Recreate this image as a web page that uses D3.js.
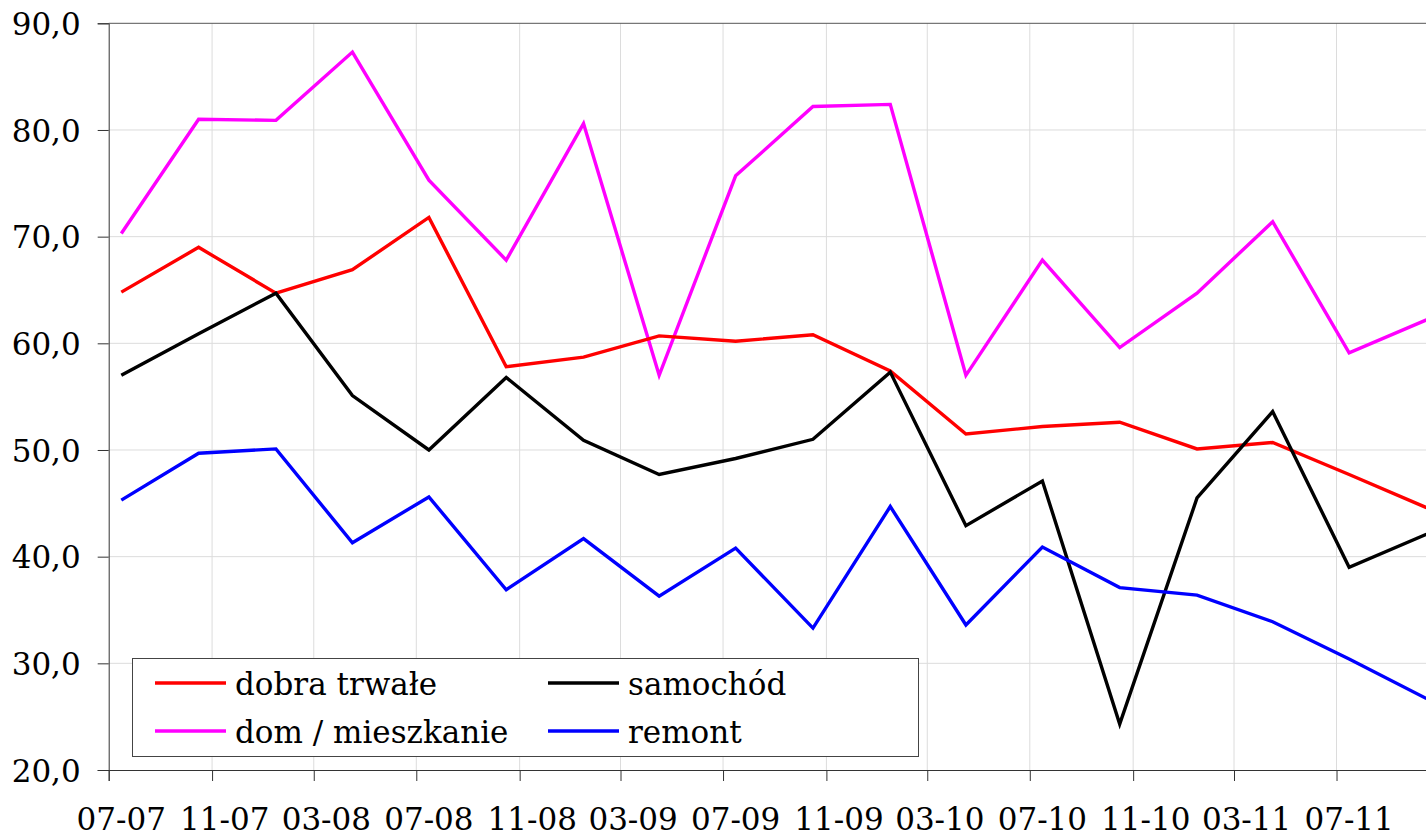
<!DOCTYPE html>
<html>
<head>
<meta charset="utf-8">
<script src="https://cdn.jsdelivr.net/npm/d3@7"></script>
<style>
    body { margin: 0; background: #fff; }
    svg { display: block; }
    text { font-family: "DejaVu Serif", serif; fill: #000; }
</style>
</head>
<body>
<svg id="viz_line"></svg>
<script>
// quarterly readings, Jul 2007 - Oct 2011
var months = ["2007-07", "2007-10", "2008-01", "2008-04", "2008-07", "2008-10",
    "2009-01", "2009-04", "2009-07", "2009-10", "2010-01", "2010-04",
    "2010-07", "2010-10", "2011-01", "2011-04", "2011-07", "2011-10"];

var dobra_trwale = [64.8, 69.0, 64.7, 66.9, 71.8, 57.8, 58.7, 60.7, 60.2, 60.8, 57.4, 51.5, 52.2, 52.6, 50.1, 50.7, 47.7, 44.6];
var samochod = [57.0, 60.9, 64.7, 55.1, 50.0, 56.8, 50.9, 47.7, 49.2, 51.0, 57.3, 42.9, 47.1, 24.3, 45.5, 53.6, 39.0, 42.1];
var dom_mieszkanie = [70.3, 81.0, 80.9, 87.3, 75.3, 67.8, 80.6, 57.0, 75.7, 82.2, 82.4, 57.0, 67.8, 59.6, 64.7, 71.4, 59.1, 62.2];
var remont = [45.3, 49.7, 50.1, 41.3, 45.6, 36.9, 41.7, 36.3, 40.8, 33.3, 44.7, 33.6, 40.9, 37.1, 36.4, 33.9, 30.4, 26.7];

var y_ticks = [20, 30, 40, 50, 60, 70, 80, 90];

var series = [
    {name: "dobra trwałe", values: dobra_trwale, color: "#ff0000"},
    {name: "samochód", values: samochod, color: "#000000"},
    {name: "dom / mieszkanie", values: dom_mieszkanie, color: "#ff00ff"},
    {name: "remont", values: remont, color: "#0000ff"}
];

var width = 1426;
var height = 838;
var margin = ({top: 23.3, left: 108.7, bottom: 770});
var font_size = "31px";

var parse = d3.utcParse("%Y-%m");
// points sit in the middle of their month, like Excel's date axis
var mid = function(d) { return d3.utcDay.offset(d, 15); };

var x = d3.scaleUtc()
    .domain([parse("2007-07"), parse("2011-11")])
    .range([margin.left, margin.left + 52 * 25.6]);

var y = d3.scaleLinear()
    .domain([20, 90])
    .range([margin.bottom, margin.top]);

// every 4th month starting at 07-07
var tick_dates = d3.utcMonth.range(parse("2007-07"), parse("2011-10"), 4);
var format_month = d3.utcFormat("%m-%y");
var format_val = function(v) { return d3.format(".1f")(v).replace(".", ","); };

var svg = d3.select("#viz_line")
    .attr("width", width)
    .attr("height", height);

// grid
svg.append("g")
    .attr("stroke", "#dcdcdc")
    .attr("stroke-width", 1)
    .selectAll("line")
    .data(tick_dates.slice(1))
    .enter().append("line")
    .attr("x1", d => x(d))
    .attr("x2", d => x(d))
    .attr("y1", margin.top)
    .attr("y2", margin.bottom);

svg.append("g")
    .attr("stroke", "#dcdcdc")
    .attr("stroke-width", 1)
    .selectAll("line")
    .data(y_ticks.slice(1, -1))
    .enter().append("line")
    .attr("x1", margin.left)
    .attr("x2", width)
    .attr("y1", d => y(d))
    .attr("y2", d => y(d));

// top border of the plot area
svg.append("line")
    .attr("x1", margin.left)
    .attr("x2", width)
    .attr("y1", y(90))
    .attr("y2", y(90))
    .attr("stroke", "#555");

var yAxis = g => g
    .attr("transform", `translate(${margin.left},0)`)
    .call(d3.axisLeft(y).tickValues(y_ticks).tickSize(11).tickPadding(17).tickFormat(format_val))
    .call(g => g.selectAll("line, path").attr("stroke", "#333"))
    .call(g => g.selectAll("text")
        .style("font-family", "DejaVu Serif")
        .style("font-size", font_size)
        .attr("dy", "0.36em"));

var xAxis = g => g
    .attr("transform", `translate(0,${margin.bottom})`)
    .call(d3.axisBottom(x).tickValues(tick_dates).tickSize(11).tickFormat(""))
    .call(g => g.selectAll("line, path").attr("stroke", "#333"));

svg.append("g").call(xAxis);
svg.append("g").call(yAxis);

// month labels centered on the month slot
svg.append("g")
    .attr("text-anchor", "middle")
    .style("font-size", font_size)
    .selectAll("text")
    .data(tick_dates)
    .enter().append("text")
    .attr("x", d => x(mid(d)))
    .attr("y", 830)
    .text(d => format_month(d));

var line = d3.line()
    .x((d, i) => x(mid(parse(months[i]))))
    .y(d => y(d));

svg.append("defs").append("clipPath")
    .attr("id", "plot_clip")
    .append("rect")
    .attr("x", margin.left)
    .attr("y", 0)
    .attr("width", width - margin.left)
    .attr("height", margin.bottom);

svg.append("g")
    .attr("clip-path", "url(#plot_clip)")
    .selectAll("path")
    .data([series[2], series[0], series[1], series[3]])
    .enter().append("path")
    .attr("fill", "none")
    .attr("stroke", d => d.color)
    .attr("stroke-width", 3.4)
    .attr("stroke-linejoin", "miter")
    .attr("d", d => line(d.values));

// legend
var legend = svg.append("g");

legend.append("rect")
    .attr("x", 132.5)
    .attr("y", 658.5)
    .attr("width", 786)
    .attr("height", 98)
    .attr("fill", "#fff")
    .attr("stroke", "#444")
    .attr("stroke-width", 1);

var legend_pos = [
    {s: series[0], x: 155, y: 683},
    {s: series[1], x: 548, y: 683},
    {s: series[2], x: 155, y: 731},
    {s: series[3], x: 548, y: 731}
];

var item = legend.selectAll("g.item")
    .data(legend_pos)
    .enter().append("g")
    .attr("class", "item");

item.append("line")
    .attr("x1", d => d.x)
    .attr("x2", d => d.x + 71)
    .attr("y1", d => d.y)
    .attr("y2", d => d.y)
    .attr("stroke", d => d.s.color)
    .attr("stroke-width", 3.4);

item.append("text")
    .attr("x", d => d.x + 80)
    .attr("y", d => d.y + 12)
    .style("font-size", font_size)
    .text(d => d.s.name);
</script>
</body>
</html>
